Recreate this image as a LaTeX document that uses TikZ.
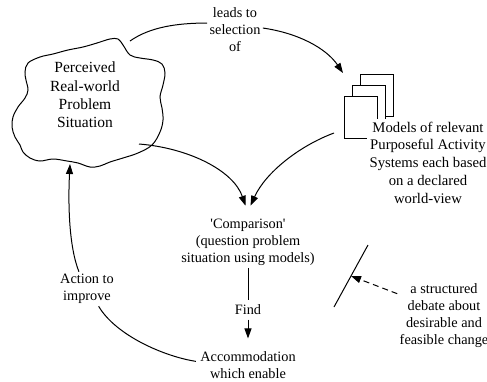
\documentclass[tikz,border=0pt]{standalone}
\usepackage{fontspec}
\setmainfont{LiberationSerif}[Extension=.ttf, UprightFont=*-Regular, BoldFont=*-Bold, ItalicFont=*-Italic]
\usetikzlibrary{arrows.meta, fit}
\tikzset{
  txt/.style={align=center, inner sep=2pt, font=\fontsize{14.3}{17}\selectfont},
  sheet/.style={draw, fill=white, minimum width=33pt, minimum height=42pt, inner sep=0pt},
  arr/.style={-{Triangle[length=10pt,width=7pt]}},
}

\begin{document}
\begin{tikzpicture}[x=1pt, y=-1pt, line width=1pt]
      \useasboundingbox (0,0) rectangle (487,381);

      % Draw the problem situation blob
      \draw plot[smooth cycle, tension=0.6] coordinates {(28,63) (40,57) (53,54) (68,50) (83,47) (97,43) (110,39) (118,39) (123,45) (130,55) (140,58) (153,60) (162,64) (165,73) (163,85) (160,97) (162,108) (163,120) (160,132) (152,145) (138,153) (123,158) (110,162) (100,166) (90,167) (78,163) (67,161) (53,159) (40,161) (30,158) (23,152) (20,145) (15,137) (12,127) (13,117) (18,107) (25,98) (28,90) (26,80) (25,72)};
      \node[txt, font=\fontsize{15.5}{18.3}\selectfont] (situ) at (85,95) {Perceived\\Real-world\\Problem\\Situation};
      \coordinate (situ-ne) at (130,41);
      \coordinate (situ-se) at (139,144);
      \coordinate (situ-s) at (70,164);

      % Stack of model sheets
      \node[sheet] (sheet3) at (376.5,95) {};
      \node[sheet] (sheet2) at (369,106) {};
      \node[sheet] (sheet1) at (360.5,117) {};
      \node[fit=(sheet1)(sheet3), inner sep=0pt] (stack) {};
      \node[txt, fill=white, inner sep=3pt, font=\fontsize{14.7}{17.7}\selectfont] (models) at (428,162.5) {Models of relevant\\Purposeful Activity\\Systems each based\\on a declared\\world-view};

      % Add the labels
      \node[txt] (leads) at (235,30) {leads to\\selection\\of};
      \node[txt] (cmp) at (248,242) {\textquotesingle Comparison\textquotesingle\\(question problem\\situation using models)};
      \node[txt, inner sep=4pt] (find) at (248,310) {Find};
      \node[txt, inner xsep=4pt] (accom) at (248,365) {Accommodation\\which enable};
      \node[txt] (act) at (87,289) {Action to\\improve};
      \node[txt] (deb) at (444,315.5) {a structured\\debate about\\desirable and\\feasible change};

      % Connectors
      \coordinate (cmp-in) at ([yshift=10.5pt]cmp.north);
      \draw (situ-ne) .. controls +(20,-14) and +(-30,0) .. (leads.166);
      \draw[arr] (leads.4) .. controls +(35,5) and +(-17,-25) .. (stack.north west);
      \draw[arr] (situ-se) .. controls +(50,4) and +(-12,-35) .. ([xshift=-2.5pt]cmp-in);
      \draw[arr] ([xshift=-9pt,yshift=6pt]stack.south west) .. controls +(-35,13) and +(15,-33) .. ([xshift=2.5pt]cmp-in);
      \draw (cmp.south) -- (find.north);
      \draw[arr, shorten >=10.5pt] (find.south) -- (accom.north);
      \draw (accom.176) .. controls +(-32,-5) and +(17,29) .. (act.-56);
      \draw[arr] (act.115) .. controls +(-10,-25) and +(-2,40) .. (situ-s);

      % The debate marker
      \draw (334,307) coordinate (sl-a) -- (368,245) coordinate (sl-b) coordinate[pos=0.5] (sl-m);
      \draw[arr, dash pattern=on 6pt off 4pt] (deb.155) -- (sl-m);
\end{tikzpicture}
\end{document}
